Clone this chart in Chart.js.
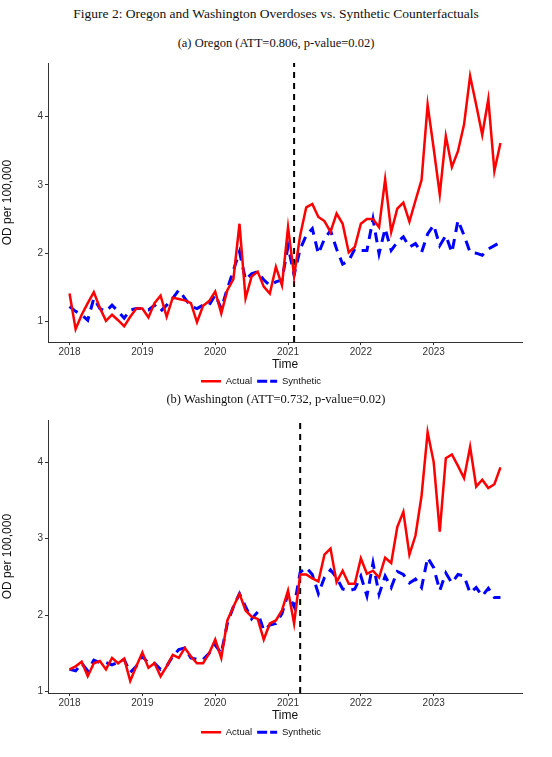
<!DOCTYPE html>
<html>
<head>
<meta charset="utf-8">
<script src="https://cdn.jsdelivr.net/npm/chart.js@4"></script>
<style>
  body { margin: 0; background: #fff; width: 552px; height: 757px; position: relative; font-family: "DejaVu Serif", "Liberation Serif", serif; }
  .ttl { position: absolute; left: 0; width: 552px; text-align: center; font-size: 12.5px; color: #111; font-family: "Liberation Serif", serif; }
  .box { position: absolute; left: 0; width: 552px; }
</style>
</head>
<body>
<div class="ttl" style="top:6px;font-size:13.5px">Figure 2: Oregon and Washington Overdoses vs. Synthetic Counterfactuals</div>
<div class="ttl" style="top:36px">(a) Oregon (ATT=0.806, p-value=0.02)</div>
<div class="box" style="top:55px;height:341px"><canvas id="orChart"></canvas></div>
<div class="ttl" style="top:392px">(b) Washington (ATT=0.732, p-value=0.02)</div>
<div class="box" style="top:412px;height:335px"><canvas id="waChart"></canvas></div>
<script>
// monthly values Jan 2018 - Dec 2023 (month index 0..71)
let yearLabels = ["2018", "2019", "2020", "2021", "2022", "2023"];

let oregonActual = [
  1.41, 0.89, 1.10, 1.27, 1.43, 1.20, 1.01, 1.10, 1.02, 0.93, 1.07, 1.19,
  1.19, 1.06, 1.27, 1.38, 1.07, 1.35, 1.33, 1.31, 1.27, 0.99, 1.23, 1.30,
  1.44, 1.12, 1.46, 1.62, 2.43, 1.34, 1.66, 1.73, 1.51, 1.41, 1.80, 1.53,
  2.38, 1.67, 2.26, 2.67, 2.72, 2.53, 2.47, 2.31, 2.58, 2.43, 2.01, 2.09,
  2.43, 2.50, 2.50, 2.38, 3.08, 2.31, 2.65, 2.74, 2.46, 2.77, 3.07, 4.17,
  3.53, 2.86, 3.71, 3.26, 3.49, 3.88, 4.59, 4.17, 3.73, 4.25, 3.20, 3.61
];
let oregonSynthetic = [
  1.22, 1.15, 1.10, 1.02, 1.34, 1.19, 1.15, 1.24, 1.15, 1.05, 1.17, 1.19,
  1.19, 1.17, 1.24, 1.15, 1.24, 1.34, 1.46, 1.34, 1.22, 1.19, 1.24, 1.24,
  1.39, 1.19, 1.48, 1.75, 2.02, 1.61, 1.70, 1.73, 1.61, 1.53, 1.58, 1.61,
  2.10, 1.68, 2.06, 2.26, 2.36, 1.99, 2.21, 2.33, 2.06, 1.84, 1.89, 2.06,
  2.04, 2.04, 2.50, 1.99, 2.36, 2.04, 2.16, 2.24, 2.09, 2.14, 2.01, 2.28,
  2.41, 2.11, 2.26, 2.01, 2.48, 2.26, 2.01, 2.00, 1.97, 2.06, 2.11, 2.16
];
let washingtonActual = [
  1.29, 1.33, 1.39, 1.20, 1.37, 1.40, 1.29, 1.44, 1.37, 1.43, 1.14, 1.33,
  1.51, 1.31, 1.37, 1.20, 1.33, 1.48, 1.44, 1.57, 1.46, 1.37, 1.37, 1.50,
  1.68, 1.44, 1.93, 2.11, 2.28, 2.06, 1.98, 1.95, 1.68, 1.89, 1.93, 2.06,
  2.32, 1.89, 2.53, 2.53, 2.48, 2.44, 2.79, 2.87, 2.43, 2.58, 2.41, 2.41,
  2.74, 2.54, 2.58, 2.49, 2.75, 2.68, 3.15, 3.35, 2.79, 3.04, 3.56, 4.39,
  4.00, 3.09, 4.05, 4.10, 3.95, 3.79, 4.20, 3.68, 3.77, 3.66, 3.71, 3.93
];
let washingtonSynthetic = [
  1.29, 1.27, 1.37, 1.27, 1.41, 1.38, 1.38, 1.35, 1.38, 1.42, 1.25, 1.33,
  1.46, 1.37, 1.37, 1.29, 1.33, 1.46, 1.55, 1.57, 1.44, 1.42, 1.42, 1.50,
  1.61, 1.50, 1.89, 2.11, 2.28, 2.11, 1.95, 2.04, 1.80, 1.87, 1.89, 2.02,
  2.28, 2.11, 2.56, 2.62, 2.53, 2.28, 2.49, 2.59, 2.49, 2.34, 2.32, 2.34,
  2.51, 2.25, 2.68, 2.27, 2.51, 2.36, 2.57, 2.53, 2.42, 2.47, 2.36, 2.75,
  2.62, 2.32, 2.55, 2.42, 2.53, 2.51, 2.29, 2.36, 2.25, 2.35, 2.23, 2.23
];
let oregonTreatMonth = 37;
let washingtonTreatMonth = 38;

function toPoints(vals) {
  return vals.map((v, i) => ({x: i, y: v}));
}

function makeChart(id, actual, synthetic, treat, yMin, yMax) {
  let ctx = document.getElementById(id).getContext('2d');
  new Chart(ctx, {
    type: 'line',
    data: {
      datasets: [
        {label: 'Actual', data: toPoints(actual), borderColor: '#ff0000', backgroundColor: '#ff0000',
         borderWidth: 2.5, pointRadius: 0, tension: 0},
        {label: 'Synthetic', data: toPoints(synthetic), borderColor: '#0000ff', backgroundColor: '#0000ff',
         borderWidth: 3, borderDash: [10, 7], pointRadius: 0, tension: 0},
        {label: 'treat', data: [{x: treat, y: yMin}, {x: treat, y: yMax}], borderColor: '#000',
         borderWidth: 2, borderDash: [6, 5], pointRadius: 0}
      ]
    },
    options: {
      responsive: true,
      maintainAspectRatio: false,
      animation: false,
      layout: {padding: {top: 6, right: 30, left: 0, bottom: 0}},
      plugins: {
        legend: {
          position: 'bottom',
          labels: {
            filter: item => item.text !== 'treat',
            boxWidth: 20, boxHeight: 0, padding: 5,
            font: {family: 'Liberation Sans', size: 9.5}, color: '#111'
          }
        },
        tooltip: {enabled: false}
      },
      scales: {
        x: {
          type: 'linear', min: -3.55, max: 74.55,
          afterBuildTicks: axis => { axis.ticks = [0, 12, 24, 36, 48, 60].map(v => ({value: v})); },
          ticks: {callback: v => yearLabels[v / 12], color: '#333', font: {family: 'Liberation Sans', size: 10}, maxRotation: 0, padding: 1},
          grid: {color: 'transparent', tickColor: '#333', tickLength: 3},
          border: {display: true, color: '#333', width: 1},
          title: {display: true, text: 'Time', color: '#111', font: {family: 'Liberation Sans', size: 12}, padding: {top: -2, bottom: 0}}
        },
        y: {
          min: yMin, max: yMax,
          afterBuildTicks: axis => { axis.ticks = [1, 2, 3, 4].map(v => ({value: v})); },
          afterFit: axis => { axis.width = 48; },
          ticks: {color: '#333', font: {family: 'Liberation Sans', size: 10}, padding: 2},
          grid: {color: 'transparent', tickColor: '#333', tickLength: 3},
          border: {display: true, color: '#333', width: 1},
          title: {display: true, text: 'OD per 100,000', color: '#111', font: {family: 'Liberation Sans', size: 12}, padding: 0}
        }
      }
    }
  });
}

makeChart('orChart', oregonActual, oregonSynthetic, oregonTreatMonth, 0.7, 4.78);
makeChart('waChart', washingtonActual, washingtonSynthetic, washingtonTreatMonth, 0.98, 4.55);
</script>
</body>
</html>
